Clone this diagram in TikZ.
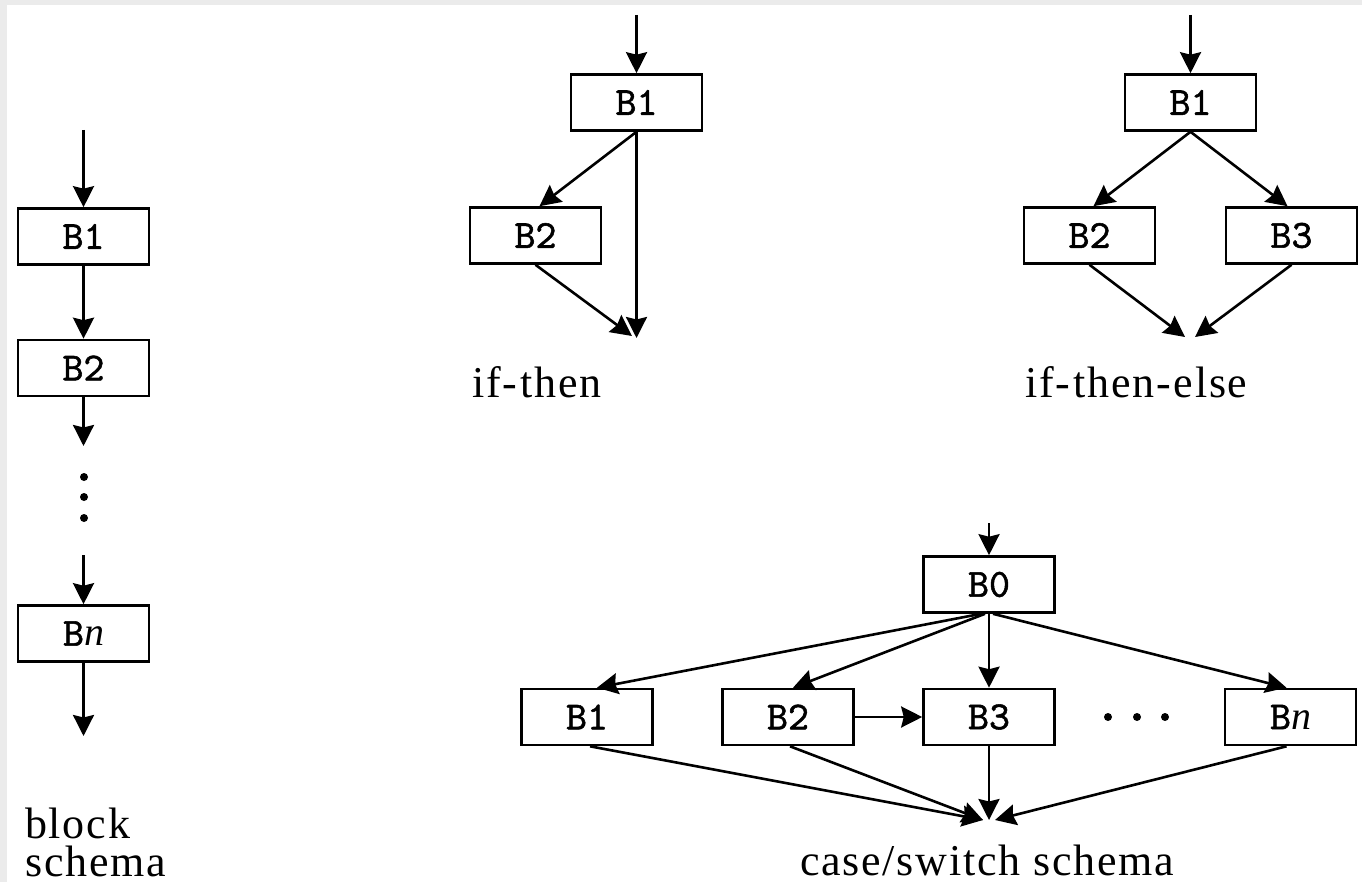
\documentclass[tikz,border=0pt]{standalone}
\usepackage{fontspec}
\setmainfont{Liberation Serif}[LetterSpace=4]
\newfontfamily\boxfont{lmmono10-regular.otf}[FakeBold=1.3]
\usetikzlibrary{arrows.meta,calc}
\begin{document}
\begin{tikzpicture}[x=1pt,y=-1pt,
  blk/.style={draw, line width=2.6pt, minimum width=131pt, minimum height=56pt,
    inner sep=0pt, font=\fontsize{40}{42}\selectfont\boxfont},
  flow/.style={line width=2.6pt, -{Stealth[length=21pt,width=21pt,inset=2.5pt]}},
  lbl/.style={font=\fontsize{44}{38}\selectfont, inner sep=0pt, anchor=base west, align=left},
  dotmark/.style={circle, fill, inner sep=0pt, minimum size=8pt}]

% page frame
\fill[black!8] (0,0) rectangle (1362,882);
\fill[white] (7,5) rectangle (1362,882);

% ---------- block schema ----------
\node[blk] (a1) at (83.5,236.5) {B1};
\node[blk] (a2) at (83.5,368) {B2};
\node[blk] (an) at (83.5,633.5) {B{\rmfamily\itshape n}};
\coordinate (a0) at (83.5,130);
\coordinate (aout) at (83.5,446);
\coordinate (ain) at (83.5,555);
\coordinate (aend) at (83.5,736);
\node[dotmark] (ad1) at (84,477) {};
\node[dotmark] (ad2) at (84,497) {};
\node[dotmark] (ad3) at (84,518) {};
\draw[flow] (a0) -- (a1);
\draw[flow] (a1) -- (a2);
\draw[flow] (a2) -- (aout);
\draw[flow] (ain) -- (an);
\draw[flow] (an) -- (aend);
\node[lbl] (lblock) at (25,876) {block\\schema};

% ---------- if-then ----------
\node[blk] (t1) at (636.5,102.5) {B1};
\node[blk] (t2) at (535.5,235.5) {B2};
\coordinate (t0) at (636.5,15);
\coordinate (tj) at (636.5,338);
\coordinate (tj2) at (632,336);
\draw[flow] (t0) -- (t1);
\draw[flow] (t1.south) -- ($(t2.north)+(4,0)$);
\draw[flow] (t1.south) -- (tj);
\draw[flow] (t2.south) -- (tj2);
\node[lbl] (lif) at (472,397) {if-\kern3pt then};

% ---------- if-then-else ----------
\node[blk] (e1) at (1190.5,102.5) {B1};
\node[blk] (e2) at (1089.5,235.5) {B2};
\node[blk] (e3) at (1291.5,235.5) {B3};
\coordinate (e0) at (1190.5,15);
\coordinate (ejl) at (1185,337);
\coordinate (ejr) at (1195,337);
\draw[flow] (e0) -- (e1);
\draw[flow] (e1.south) -- ($(e2.north)+(4,0)$);
\draw[flow] (e1.south) -- ($(e3.north)+(-4,0)$);
\draw[flow] (e2.south) -- (ejl);
\draw[flow] (e3.south) -- (ejr);
\node[lbl] (lite) at (1025,397) {if-\kern3pt then-\kern3pt else};

% ---------- case/switch schema ----------
\node[blk] (c0) at (989,584.5) {B0};
\node[blk] (c1) at (587,717) {B1};
\node[blk] (c2) at (788,717) {B2};
\node[blk] (c3) at (989,717) {B3};
\node[blk] (cn) at (1290.5,717) {B{\rmfamily\itshape n}};
\node[dotmark] (cd1) at (1108,717) {};
\node[dotmark] (cd2) at (1137,717) {};
\node[dotmark] (cd3) at (1165,717) {};
\coordinate (cin) at (989,523);
\coordinate (cjl) at (983,820);
\coordinate (cjm) at (989,820);
\coordinate (cjr) at (995,820);
\draw[flow] (cin) -- (c0);
\draw[flow] ($(c0.south)+(-8,0)$) -- ($(c1.north)+(10,0)$);
\draw[flow] ($(c0.south)+(-4,0)$) -- ($(c2.north)+(5,0)$);
\draw[flow] (c0.south) -- (c3.north);
\draw[flow] ($(c0.south)+(4,0)$) -- ($(cn.north)+(-4,0)$);
\draw[flow] (c2.east) -- (c3.west);
\draw[flow] ($(c1.south)+(3,0)$) -- (cjl);
\draw[flow] ($(c2.south)+(2,0)$) -- (cjl);
\draw[flow] (c3.south) -- (cjm);
\draw[flow] ($(cn.south)+(-4,0)$) -- (cjr);
\node[lbl] (lcase) at (800,875) {case/switch schema};
\end{tikzpicture}
\end{document}
